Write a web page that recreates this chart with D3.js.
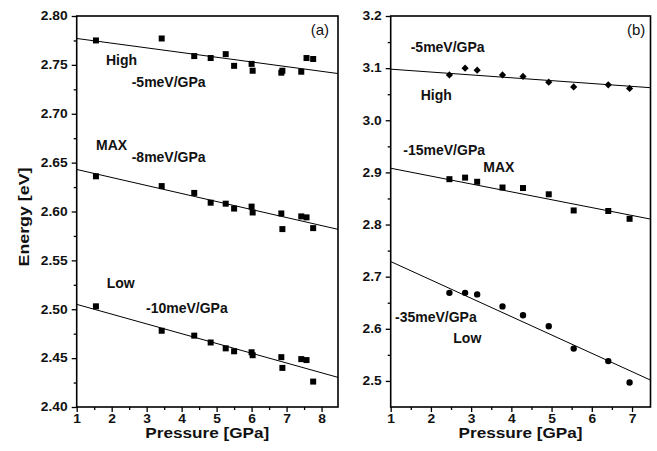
<!DOCTYPE html>
<html>
<head>
<meta charset="utf-8">
<script src="https://cdn.jsdelivr.net/npm/d3@7"></script>
<style>
  body { margin: 0; background: #fff; }
  text { font-family: "Liberation Sans", Arial, sans-serif; fill: #111; }
</style>
</head>
<body>
<div id="chart"></div>
<script>
// panel (a) data: pressure [GPa] and energy [eV]
var pressureA = [1.55, 3.43, 4.36, 4.83, 5.26, 5.50, 6.00, 6.03, 6.85, 6.88, 7.42, 7.57, 7.76];
var highA = [2.775, 2.777, 2.759, 2.757, 2.761, 2.749, 2.751, 2.744, 2.742, 2.744, 2.743, 2.757, 2.756];
var maxA = [2.636, 2.626, 2.619, 2.609, 2.608, 2.603, 2.605, 2.599, 2.598, 2.582, 2.595, 2.594, 2.583];
var lowA = [2.503, 2.478, 2.473, 2.466, 2.460, 2.457, 2.456, 2.453, 2.451, 2.440, 2.449, 2.448, 2.426];
// linear fits: [energy at 1 GPa, slope eV/GPa]
var fitA = [[2.777, -0.0048], [2.643, -0.0082], [2.505, -0.0100]];

// panel (b) data
var pressureB = [2.46, 2.85, 3.15, 3.78, 4.29, 4.93, 5.55, 6.41, 6.94];
var highB = [3.087, 3.100, 3.096, 3.087, 3.084, 3.073, 3.064, 3.068, 3.061];
var maxB = [2.887, 2.890, 2.882, 2.871, 2.870, 2.858, 2.827, 2.826, 2.811];
var lowB = [2.669, 2.669, 2.666, 2.643, 2.626, 2.605, 2.562, 2.538, 2.497];
var fitB = [[3.098, -0.0055], [2.908, -0.0151], [2.729, -0.0352]];

var ticksYA = [2.40, 2.45, 2.50, 2.55, 2.60, 2.65, 2.70, 2.75, 2.80];
var ticksYB = [2.5, 2.6, 2.7, 2.8, 2.9, 3.0, 3.1, 3.2];

var width = 657;
var height = 451;
var plotTop = 16, plotBottom = 407;

var svg = d3.select("#chart").append("svg").attr("width", width).attr("height", height);

function panel(opt) {
    var x = d3.scaleLinear().domain(opt.xDomain).range([opt.left, opt.right]);
    var y = d3.scaleLinear().domain(opt.yDomain).range([plotBottom, plotTop]);
    var g = svg.append("g");

    // clip for fit lines
    var clipId = "clip" + opt.name;
    svg.append("clipPath").attr("id", clipId).append("rect")
        .attr("x", opt.left).attr("y", plotTop)
        .attr("width", opt.right - opt.left).attr("height", plotBottom - plotTop);

    // minor ticks
    g.append("g").attr("transform", "translate(0," + plotBottom + ")")
        .call(d3.axisBottom(x).tickValues(d3.range(1.5, opt.xDomain[1], 1)).tickSize(3).tickFormat(""))
        .call(function (s) { s.select(".domain").remove(); });
    g.append("g").attr("transform", "translate(" + opt.left + ",0)")
        .call(d3.axisLeft(y).tickValues(opt.minorY).tickSize(3).tickFormat(""))
        .call(function (s) { s.select(".domain").remove(); });

    // major ticks
    var xAxis = g.append("g").attr("transform", "translate(0," + plotBottom + ")")
        .call(d3.axisBottom(x).tickValues(d3.range(1, Math.floor(opt.xDomain[1]) + 1)).tickSize(5).tickPadding(2).tickFormat(d3.format("d")));
    var yAxis = g.append("g").attr("transform", "translate(" + opt.left + ",0)")
        .call(d3.axisLeft(y).tickValues(opt.ticksY).tickSize(5).tickPadding(4).tickFormat(d3.format(opt.fmt)));

    [xAxis, yAxis].forEach(function (a) {
        a.select(".domain").remove();
        a.selectAll("text")
            .attr("font-size", "12px")
            .attr("font-weight", "bold")
            .attr("fill", "#111")
            .attr("lengthAdjust", "spacingAndGlyphs")
            .attr("textLength", function () { return this.getComputedTextLength() * 1.15; });
    });
    g.selectAll(".tick line").attr("stroke", "#000").attr("stroke-width", 1.3);

    // frame
    g.append("rect")
        .attr("x", opt.left).attr("y", plotTop)
        .attr("width", opt.right - opt.left).attr("height", plotBottom - plotTop)
        .attr("fill", "none").attr("stroke", "#000").attr("stroke-width", 1.6);

    // fit lines
    g.append("g").attr("clip-path", "url(#" + clipId + ")")
        .selectAll("line")
        .data(opt.fits)
        .enter()
        .append("line")
        .attr("x1", x(1))
        .attr("y1", function (d) { return y(d[0]); })
        .attr("x2", x(opt.xDomain[1]))
        .attr("y2", function (d) { return y(d[0] + d[1] * (opt.xDomain[1] - 1)); })
        .attr("stroke", "#000")
        .attr("stroke-width", 1);

    // markers
    opt.series.forEach(function (s) {
        g.append("g").selectAll("path")
            .data(s.values)
            .enter()
            .append("path")
            .attr("d", d3.symbol().type(s.symbol).size(s.size))
            .attr("transform", function (d, i) {
                return "translate(" + x(opt.pressure[i]) + "," + y(d) + ")" + (s.rotate ? " rotate(45)" : "");
            })
            .attr("fill", "#000");
    });

    // x title
    g.append("text")
        .attr("x", (opt.left + opt.right) / 2)
        .attr("y", 438)
        .attr("text-anchor", "middle")
        .attr("font-size", "14px")
        .attr("font-weight", "bold")
        .attr("lengthAdjust", "spacingAndGlyphs")
        .attr("textLength", 124)
        .text("Pressure [GPa]");

    // annotations
    g.selectAll(".note")
        .data(opt.notes)
        .enter()
        .append("text")
        .attr("class", "note")
        .attr("x", function (d) { return d[1]; })
        .attr("y", function (d) { return d[2]; })
        .attr("font-size", function (d) { return d[3] ? "15px" : "14px"; })
        .attr("font-weight", function (d) { return d[3] ? "normal" : "bold"; })
        .text(function (d) { return d[0]; });
}

panel({
    name: "a",
    left: 76.7, right: 338,
    xDomain: [1, 8.47],
    yDomain: [2.40, 2.80],
    ticksY: ticksYA,
    minorY: d3.range(2.425, 2.80, 0.05),
    fmt: ".2f",
    pressure: pressureA,
    fits: fitA,
    series: [
        {values: highA, symbol: d3.symbolSquare, size: 36},
        {values: maxA, symbol: d3.symbolSquare, size: 36},
        {values: lowA, symbol: d3.symbolSquare, size: 36}
    ],
    notes: [
        ["High", 106, 65], ["-5meV/GPa", 131.7, 87],
        ["MAX", 96, 150], ["-8meV/GPa", 131.7, 162],
        ["Low", 106.7, 288], ["-10meV/GPa", 146, 313],
        ["(a)", 310.7, 35, true]
    ]
});

panel({
    name: "b",
    left: 390.7, right: 650.5,
    xDomain: [1, 7.46],
    yDomain: [2.45, 3.2],
    ticksY: ticksYB,
    minorY: d3.range(2.55, 3.2, 0.1),
    fmt: ".1f",
    pressure: pressureB,
    fits: fitB,
    series: [
        {values: highB, symbol: d3.symbolSquare, size: 26, rotate: true},
        {values: maxB, symbol: d3.symbolSquare, size: 36},
        {values: lowB, symbol: d3.symbolCircle, size: 32}
    ],
    notes: [
        ["-5meV/GPa", 410.7, 52], ["High", 420.7, 100],
        ["-15meV/GPa", 403.3, 155], ["MAX", 483.3, 172],
        ["-35meV/GPa", 395, 322], ["Low", 453.3, 343],
        ["(b)", 627, 35, true]
    ]
});

// y title
svg.append("text")
    .attr("transform", "translate(29,217) rotate(-90)")
    .attr("text-anchor", "middle")
    .attr("font-size", "14px")
    .attr("font-weight", "bold")
    .attr("lengthAdjust", "spacingAndGlyphs")
    .attr("textLength", 99)
    .text("Energy [eV]");
</script>
</body>
</html>
